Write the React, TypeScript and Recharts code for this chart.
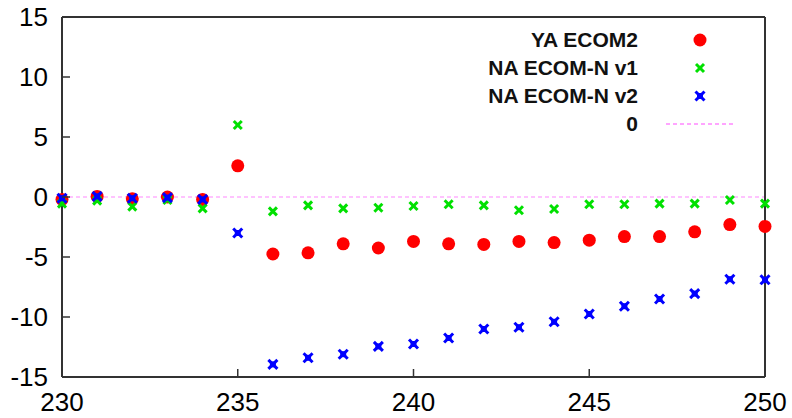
import React from "react";
import {
    ScatterChart,
    Scatter,
    XAxis,
    YAxis,
    ReferenceLine,
    Legend,
} from "recharts";

const days = [230, 231, 232, 233, 234, 235, 236, 237, 238, 239, 240, 241, 242, 243, 244, 245, 246, 247, 248, 249, 250];

const yaEcom2 = [-0.2, 0.05, -0.15, 0, -0.2, 2.6, -4.75, -4.65, -3.9, -4.25, -3.7, -3.9, -3.95, -3.7, -3.8, -3.6, -3.3, -3.3, -2.9, -2.3, -2.45];
const naEcomNv1 = [-0.55, -0.3, -0.8, -0.25, -0.95, 6.0, -1.2, -0.7, -0.95, -0.9, -0.75, -0.6, -0.7, -1.1, -1.0, -0.6, -0.6, -0.55, -0.55, -0.25, -0.55];
const naEcomNv2 = [-0.1, 0.05, -0.1, -0.05, -0.2, -3.0, -13.95, -13.4, -13.1, -12.45, -12.25, -11.75, -11.0, -10.85, -10.4, -9.75, -9.1, -8.5, -8.05, -6.85, -6.9];

const xTicks = [230, 235, 240, 245, 250];
const yTicks = [-15, -10, -5, 0, 5, 10, 15];

const seriesNames = ["YA ECOM2", "NA ECOM-N v1", "NA ECOM-N v2", "0"];

const toPoints = (vals: number[]) => days.map((d, i) => ({ x: d, y: vals[i] }));

const FONT = "'Liberation Sans', Arial, Helvetica, sans-serif";
const INK = "#333333";
const TICK_LEN = 8;
const BOTTOM_GAP = 16;
const LEFT_GAP = 14;

const RedDot = (p: any) => <circle cx={p.cx} cy={p.cy} r={6.5} fill="#ff0000" />;

const GreenCross = (p: any) => {
    const s = 4;
    return (
        <g stroke="#00e000" strokeWidth={3}>
            <line x1={p.cx - s} y1={p.cy - s} x2={p.cx + s} y2={p.cy + s} />
            <line x1={p.cx - s} y1={p.cy + s} x2={p.cx + s} y2={p.cy - s} />
        </g>
    );
};

const BlueStar = (p: any) => {
    const s = 4.5;
    return (
        <g stroke="#0000ff" strokeWidth={3}>
            <line x1={p.cx - s} y1={p.cy - s} x2={p.cx + s} y2={p.cy + s} />
            <line x1={p.cx - s} y1={p.cy + s} x2={p.cx + s} y2={p.cy - s} />
            <rect x={p.cx - 3} y={p.cy - 3} width={6} height={6} fill="#0000ff" strokeWidth={0} />
        </g>
    );
};

// tick renderers: label outside the box, short tick mark pointing into the plot
const BottomTick = (p: any) => {
    const axisY = p.y - BOTTOM_GAP;
    return (
        <g>
            <line x1={p.x} x2={p.x} y1={axisY} y2={axisY - TICK_LEN} stroke={INK} strokeWidth={1.5} />
            <text x={p.x} y={p.y} dy="0.71em" textAnchor="middle" fontSize={26} fontFamily={FONT} fill="#000">
                {p.payload.value}
            </text>
        </g>
    );
};

const LeftTick = (p: any) => {
    const axisX = p.x + LEFT_GAP;
    return (
        <g>
            <line x1={axisX} x2={axisX + TICK_LEN} y1={p.y} y2={p.y} stroke={INK} strokeWidth={1.5} />
            <text x={p.x} y={p.y} dy="0.36em" textAnchor="end" fontSize={26} fontFamily={FONT} fill="#000">
                {p.payload.value}
            </text>
        </g>
    );
};

const TopTick = (p: any) => (
    <line x1={p.x} x2={p.x} y1={p.y} y2={p.y + TICK_LEN} stroke={INK} strokeWidth={1.5} />
);

const RightTick = (p: any) => (
    <line x1={p.x} x2={p.x - TICK_LEN} y1={p.y} y2={p.y} stroke={INK} strokeWidth={1.5} />
);

const legendSymbols = [
    <circle cx={40} cy={14} r={6.5} fill="#ff0000" />,
    <GreenCross cx={40} cy={14} />,
    <BlueStar cx={40} cy={14} />,
    <line x1={6} y1={14} x2={74} y2={14} stroke="#ff88ff" strokeWidth={1.5} strokeDasharray="4 3" />,
];

const LegendBox = () => (
    <div style={{ fontFamily: FONT }}>
        {seriesNames.map((name, i) => (
            <div key={name} style={{ display: "flex", alignItems: "center", height: 28 }}>
                <span
                    style={{
                        width: 168,
                        textAlign: "right",
                        fontWeight: 700,
                        fontSize: 21,
                        color: "#111",
                        lineHeight: "28px",
                    }}
                >
                    {name}
                </span>
                <svg width={80} height={28} style={{ marginLeft: 22 }}>
                    {legendSymbols[i]}
                </svg>
            </div>
        ))}
    </div>
);

const FRAME = { stroke: INK, strokeWidth: 2 };

export default function App() {
    return (
        <div style={{ position: "absolute", left: 0, top: 0, width: 792, height: 418, background: "#fff" }}>
            <ScatterChart width={792} height={418} margin={{ top: 16, right: 26, bottom: 0, left: 0 }}>
                <XAxis
                    dataKey="x"
                    type="number"
                    domain={[230, 250]}
                    ticks={xTicks}
                    height={41}
                    tickSize={0}
                    tickMargin={BOTTOM_GAP}
                    tick={BottomTick}
                    tickLine={false}
                    axisLine={FRAME}
                />
                <XAxis
                    xAxisId="top"
                    orientation="top"
                    type="number"
                    domain={[230, 250]}
                    ticks={xTicks}
                    height={1}
                    tickSize={0}
                    tickMargin={0}
                    tick={TopTick}
                    tickLine={false}
                    axisLine={FRAME}
                />
                <YAxis
                    dataKey="y"
                    type="number"
                    domain={[-15, 15]}
                    ticks={yTicks}
                    width={62}
                    tickSize={0}
                    tickMargin={LEFT_GAP}
                    tick={LeftTick}
                    tickLine={false}
                    axisLine={FRAME}
                />
                <YAxis
                    yAxisId="right"
                    orientation="right"
                    type="number"
                    domain={[-15, 15]}
                    ticks={yTicks}
                    width={1}
                    tickSize={0}
                    tickMargin={0}
                    tick={RightTick}
                    tickLine={false}
                    axisLine={FRAME}
                />
                <ReferenceLine y={0} stroke="#ff88ff" strokeWidth={1.2} strokeDasharray="4 3" />
                <Scatter name={seriesNames[0]} data={toPoints(yaEcom2)} shape={RedDot} isAnimationActive={false} />
                <Scatter name={seriesNames[1]} data={toPoints(naEcomNv1)} shape={GreenCross} isAnimationActive={false} />
                <Scatter name={seriesNames[2]} data={toPoints(naEcomNv2)} shape={BlueStar} isAnimationActive={false} />
                <Legend
                    layout="horizontal"
                    verticalAlign="middle"
                    align="center"
                    content={() => <LegendBox />}
                    wrapperStyle={{ position: "absolute", left: 470, top: 26, width: 300, height: 112 }}
                />
            </ScatterChart>
        </div>
    );
}
